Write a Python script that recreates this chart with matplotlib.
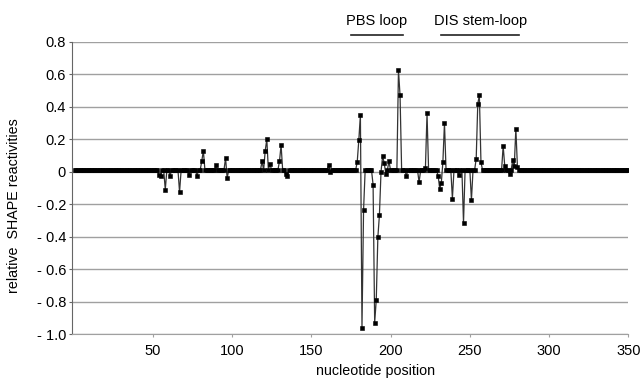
import matplotlib
matplotlib.use('Agg')
import matplotlib.pyplot as plt
import numpy as np

plt.rcParams['font.family'] = ['Liberation Sans', 'DejaVu Sans']

# reactivity values (everything else sits on the baseline)
baseline = 0.01
positions = [54, 55, 58, 61, 67, 73, 78, 81, 82, 90, 96, 97,
             119, 121, 122, 124, 130, 131, 134, 135, 161, 162,
             179, 180, 181, 182, 183, 189, 190, 191, 192, 193, 194, 195, 196, 197, 199,
             205, 206, 210, 218, 222, 223,
             230, 231, 232, 233, 234, 239, 243, 246, 251,
             254, 255, 256, 257, 271, 272, 275, 277, 278, 279, 280]
values = [-0.02, -0.025, -0.11, -0.025, -0.125, -0.02, -0.025, 0.065, 0.13, 0.04, 0.085, -0.04,
          0.065, 0.13, 0.2, 0.05, 0.065, 0.165, -0.015, -0.025, 0.04, 0.0,
          0.06, 0.195, 0.35, -0.96, -0.235, -0.08, -0.93, -0.79, -0.405, -0.265, 0.0, 0.095, 0.055, -0.012, 0.065,
          0.625, 0.47, -0.025, -0.065, 0.025, 0.36,
          -0.025, -0.105, -0.07, 0.06, 0.30, -0.165, -0.02, -0.315, -0.175,
          0.08, 0.42, 0.47, 0.06, 0.16, 0.035, -0.015, 0.07, 0.035, 0.265, 0.03]

nt = np.arange(1, 351)
shape = np.full(nt.size, baseline)
shape[np.array(positions) - 1] = values

yticks = [-1.0, -0.8, -0.6, -0.4, -0.2, 0.0, 0.2, 0.4, 0.6, 0.8]
ylabels = ['- 1.0', '- 0.8', '- 0.6', '- 0.4', '- 0.2', '0', '0.2', '0.4', '0.6', '0.8']
xticks = [50, 100, 150, 200, 250, 300, 350]

regions = [('PBS loop', 175, 208), ('DIS stem-loop', 232, 281)]

fig = plt.figure(figsize=(6.4, 3.84), dpi=100)
ax = fig.add_axes([0.113, 0.130, 0.869, 0.761])

ax.plot(nt, shape, color='#333333', lw=0.9, marker='s', markersize=2.4,
        markerfacecolor='black', markeredgecolor='black', markeredgewidth=0.4, zorder=3)

ax.set_xlim(-0.6, 350)
ax.set_ylim(-1.0, 0.8)
ax.set_yticks(yticks)
ax.set_yticklabels(ylabels)
ax.set_xticks(xticks)

ax.yaxis.grid(True, color='#a0a0a0', lw=1.0)
ax.set_axisbelow(True)
for s in ['top', 'right']:
    ax.spines[s].set_visible(False)
ax.spines['left'].set_color('#666666')
ax.spines['bottom'].set_color('#a0a0a0')
ax.tick_params(axis='y', length=2.5, width=0.8, color='#666666', pad=2, labelsize=10.5)
ax.tick_params(axis='x', length=2.5, width=0.8, color='#a0a0a0', pad=4.5, labelsize=10.5)

ax.set_xlabel('nucleotide position', fontsize=10.3)
ax.xaxis.set_label_coords(0.545, -0.103)
ax.set_ylabel('relative  SHAPE reactivities', fontsize=10.3)
ax.yaxis.set_label_coords(-0.093, 0.44)

for name, x0, x1 in regions:
    ax.plot([x0, x1], [0.845, 0.845], color='#222222', lw=1.2, clip_on=False)
    ax.text((x0 + x1) / 2, 0.905, name, ha='center', va='baseline', fontsize=10.5)

fig.savefig('out.png', dpi=100)
